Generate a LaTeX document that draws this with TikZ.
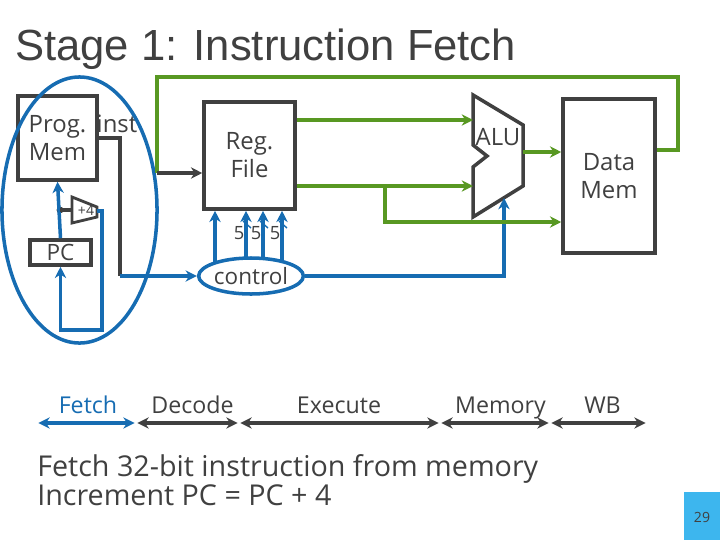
\documentclass[tikz,border=0pt]{standalone}
\usepackage{fontspec}
\setmainfont{Open Sans}
\newfontfamily\headfont{Liberation Sans}
\usetikzlibrary{arrows.meta,shapes.geometric}
\definecolor{ink}{HTML}{404040}
\definecolor{datagreen}{RGB}{88,152,34}
\definecolor{ctrlblue}{RGB}{22,108,178}
\definecolor{pagebox}{RGB}{61,182,238}
\begin{document}
\begin{tikzpicture}[x=0.025cm,y=-0.025cm,line join=miter,
    unit/.style={draw=ink,line width=2.5pt,text=ink,align=center,inner sep=0pt,font=\fontsize{17}{20}\selectfont},
    label text/.style={text=ink,inner sep=0pt,font=\fontsize{17}{20}\selectfont},
    gray wire/.style={draw=ink,line width=2.5pt},
    green wire/.style={draw=datagreen,line width=2.5pt},
    blue wire/.style={draw=ctrlblue,line width=2.5pt},
    tip/.style={-{Stealth[length=8pt,width=8pt,inset=2.5pt]}},
    stage/.style={text=ink,inner sep=0pt,anchor=base,font=\fontsize{16.5}{20}\selectfont},
    stage arrow/.style={draw=ink,line width=2.5pt,{Stealth[length=8pt,width=8pt,inset=2.5pt]}-{Stealth[length=8pt,width=8pt,inset=2.5pt]},shorten <=1pt,shorten >=1pt}]
  \useasboundingbox (0,0) rectangle (720,540);
  \node[anchor=base west,text=ink,inner sep=0pt,font=\headfont\fontsize{31}{36}\selectfont] (title) at (15,60) {Stage 1: Instruction Fetch};
  % datapath blocks
  \node[unit,minimum width=1.975cm,minimum height=2.1cm] (progmem) at (57.5,138) {Prog.\\Mem};
  \node[label text,anchor=base] (inst) at (117,132) {inst};
  \node[unit,minimum width=1.525cm,minimum height=0.625cm,font=\fontsize{16}{20}\selectfont] (pc) at (60.5,252.5) {PC};
  \node[unit,minimum width=2.275cm,minimum height=2.675cm] (regfile) at (249.5,155.5) {Reg.\\File};
  \node[unit,minimum width=2.3cm,minimum height=3.85cm] (datamem) at (609,176) {Data\\Mem};
  \draw[gray wire] (473,95) -- (523,125) -- (523,186) -- (473,217) -- (473,167) -- (487,156) -- (473,145) -- cycle;
  \node[label text] (alu) at (498,137) {ALU};
  \coordinate (aluA) at (473,120);
  \coordinate (aluB) at (473,186);
  \coordinate (aluout) at (523,152);
  \coordinate (aluop) at (504,198);
  \draw[draw=ink,line width=2pt] (72,197) -- (97,207) -- (97,217) -- (72,223) -- cycle;
  \node[text=ink,inner sep=0pt,font=\fontsize{10}{12}\selectfont] (plus4) at (86,210) {+4};
  \coordinate (addin) at (72,210);
  \coordinate (addout) at (97,211);
  \fill[ink] (60,210) circle (3.5) coordinate (split);
  % fetch loop
  \draw[blue wire,tip] (pc.north) -- (progmem.south);
  \draw[gray wire] (split) -- (addin);
  \draw[blue wire,tip] (addout) -- (102,211) -- (102,330) -| (pc.south);
  \node[draw=ctrlblue,line width=2.5pt,ellipse,minimum width=3.875cm,minimum height=6.65cm] (fetchring) at (79.5,210) {};
  % control
  \coordinate (ctl) at (251,276);
  \foreach \xx in {215,246,263,282}
    \draw[blue wire,tip] (ctl -| \xx,0) -- (regfile.south -| \xx,0);
  \node[draw=ctrlblue,fill=white,line width=2.5pt,ellipse,minimum width=2.45cm,minimum height=0.9cm,inner sep=0pt,text=ink,font=\fontsize{16}{20}\selectfont] (control) at (ctl) {control};
  \foreach \xx in {246,263,282}{
    \draw[ctrlblue,line width=1pt] (\xx-3,221) -- (\xx+5,228);
    \node[text=ink,inner sep=0pt,font=\fontsize{13}{15}\selectfont] (bus\xx) at (\xx-7,233) {5};
  }
  \draw[gray wire] (progmem.east) -| (120,276) coordinate (instdrop);
  \draw[blue wire,tip] (instdrop) -- (control.west);
  \draw[blue wire,tip] (control.east) -| (aluop);
  % data wires
  \coordinate (wb) at (157,173);
  \draw[green wire] (datamem.east |- 0,150) -- (678,150) -- (678,77) -| (wb);
  \draw[gray wire,tip] (wb) -- (regfile.west |- wb);
  \draw[green wire,tip] (regfile.east |- aluA) -- (aluA);
  \draw[green wire,tip] (regfile.east |- aluB) -- (aluB);
  \draw[green wire,tip] (385,186) -- (385,222) -- (datamem.west |- 0,222);
  \draw[green wire,tip] (aluout) -- (datamem.west |- aluout);
  % stages
  \foreach \name/\xx in {t0/37,t1/136,t2/239,t3/440,t4/550,t5/647}
    \coordinate (\name) at (\xx,423);
  \draw[stage arrow,draw=ctrlblue] (t0) -- (t1);
  \foreach \a/\b in {t1/t2,t2/t3,t3/t4,t4/t5}
    \draw[stage arrow] (\a) -- (\b);
  \node[stage,text=ctrlblue] (fetch) at (88,413) {Fetch};
  \node[stage] (decode) at (192.5,413) {Decode};
  \node[stage] (execute) at (339,413) {Execute};
  \node[stage] (memory) at (500.5,413) {Memory};
  \node[stage] (wback) at (602.5,413) {WB};
  \node[anchor=base west,text=ink,inner sep=0pt,font=\fontsize{20.4}{24}\selectfont] (desc1) at (37,476) {Fetch 32-bit instruction from memory};
  \node[anchor=base west,text=ink,inner sep=0pt,font=\fontsize{20.4}{24}\selectfont] (desc2) at (37,505) {Increment PC = PC + 4};
  \fill[pagebox] (684,492) rectangle (720,540);
  \node[text=ink,inner sep=0pt,font=\fontsize{10}{12}\selectfont] (pageno) at (702,517) {29};
\end{tikzpicture}
\end{document}
